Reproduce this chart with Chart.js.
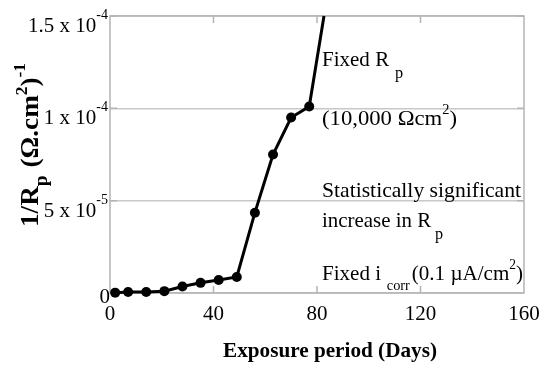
<!DOCTYPE html>
<html>
<head>
<meta charset="utf-8">
<script src="https://cdn.jsdelivr.net/npm/chart.js@4/dist/chart.umd.min.js"></script>
<style>
  html, body { margin: 0; padding: 0; background: #fff; }
  #wrap { width: 549px; height: 367px; position: relative; }
</style>
</head>
<body>
<div id="wrap"><canvas id="c"></canvas></div>
<script>
// Exposure period (days) and measured 1/Rp (ohm.cm^2)^-1
const exposureDays = [2, 7, 14, 21, 28, 35, 42, 49, 56, 63, 70, 77, 82.7];
const inverseRp = [0.02e-5, 0.05e-5, 0.05e-5, 0.1e-5, 0.35e-5, 0.55e-5, 0.7e-5, 0.87e-5, 4.35e-5, 7.5e-5, 9.5e-5, 10.1e-5, 15e-5];
// the last entry only carries the line up to the top of the frame
const markerRadius = [5, 5, 5, 5, 5, 5, 5, 5, 5, 5, 5, 5, 0];

const xTickValues = [0, 40, 80, 120, 160];
const yTickValues = [0, 5e-5, 1e-4, 1.5e-4];
const yTickBase = ['0', '5 x 10', '1 x 10', '1.5 x 10'];
const yTickExp = ['', '-5', '-4', '-4'];

const SERIF = '"Liberation Serif", "Times New Roman", serif';

// Draws a run of text pieces (normal / sub / superscript) on one baseline.
// Optionally squeezes the whole run horizontally to a given width.
function drawRuns(ctx, runs, x, y, align, fitWidth) {
  let total = 0;
  const widths = runs.map(r => {
    ctx.font = (r.bold ? 'bold ' : '') + r.size + 'px ' + SERIF;
    const w = ctx.measureText(r.t).width;
    total += w + (r.gap || 0);
    return w;
  });
  const sx = fitWidth ? fitWidth / total : 1;
  const span = total * sx;
  const start = align === 'right' ? -span : align === 'center' ? -span / 2 : 0;
  ctx.save();
  ctx.translate(x + start, y);
  ctx.scale(sx, 1);
  ctx.textAlign = 'left';
  ctx.textBaseline = 'alphabetic';
  ctx.fillStyle = '#000';
  let cx = 0;
  runs.forEach((r, i) => {
    cx += r.gap || 0;
    ctx.font = (r.bold ? 'bold ' : '') + r.size + 'px ' + SERIF;
    ctx.fillText(r.t, cx, r.dy || 0);
    cx += widths[i];
  });
  ctx.restore();
}

const framePlugin = {
  id: 'frame',
  beforeDatasetsDraw(chart) {
    const { ctx, chartArea: a, scales: { x, y } } = chart;
    ctx.save();
    ctx.strokeStyle = '#b4b4b4';
    ctx.lineWidth = 1.5;
    ctx.strokeRect(a.left, a.top, a.right - a.left, a.bottom - a.top);
    const tl = 7;
    ctx.beginPath();
    xTickValues.slice(1, -1).forEach(v => {
      const px = x.getPixelForValue(v);
      ctx.moveTo(px, a.bottom); ctx.lineTo(px, a.bottom - tl);
      ctx.moveTo(px, a.top); ctx.lineTo(px, a.top + tl);
    });
    yTickValues.slice(1).forEach(v => {
      const py = y.getPixelForValue(v);
      ctx.moveTo(a.left, py); ctx.lineTo(a.left + tl, py);
      ctx.moveTo(a.right, py); ctx.lineTo(a.right - tl, py);
    });
    ctx.stroke();
    ctx.restore();
  },
  afterDraw(chart) {
    const { ctx, chartArea: a, scales: { y } } = chart;

    // y tick labels with exponents
    yTickValues.forEach((v, i) => {
      const py = y.getPixelForValue(v);
      if (yTickExp[i]) {
        drawRuns(ctx, [
          { t: yTickBase[i], size: 21 },
          { t: yTickExp[i], size: 14, dy: -13 }
        ], a.left - 2, py + 16, 'right');
      } else {
        drawRuns(ctx, [{ t: yTickBase[i], size: 21 }], a.left, py + 10, 'right');
      }
    });

    // y axis title, rotated
    ctx.save();
    ctx.translate(38, 145);
    ctx.rotate(-Math.PI / 2);
    drawRuns(ctx, [
      { t: '1/R', size: 25, bold: true },
      { t: 'p', size: 18, bold: true, dy: 9 },
      { t: ' (\u03A9.cm', size: 25, bold: true, gap: 1 },
      { t: '2', size: 16, bold: true, dy: -11 },
      { t: ')', size: 25, bold: true },
      { t: '-1', size: 16, bold: true, dy: -13 }
    ], 0, 0, 'center', 164);
    ctx.restore();

    // x axis title
    drawRuns(ctx, [{ t: 'Exposure period (Days)', size: 21, bold: true }], 330, 357, 'center', 214);

    // annotations on the right of the curve
    const tx = 322;
    drawRuns(ctx, [
      { t: 'Fixed R', size: 22 },
      { t: 'p', size: 17, dy: 12, gap: 6 }
    ], tx, 66, 'left', 81);
    drawRuns(ctx, [
      { t: '(10,000 \u03A9cm', size: 22 },
      { t: '2', size: 14, dy: -11 },
      { t: ')', size: 22 }
    ], tx, 125, 'left', 135);
    drawRuns(ctx, [{ t: 'Statistically significant', size: 22 }], tx, 197, 'left', 199);
    drawRuns(ctx, [
      { t: 'increase in R', size: 22 },
      { t: 'p', size: 17, dy: 12, gap: 4 }
    ], tx, 227, 'left', 121);
    drawRuns(ctx, [
      { t: 'Fixed i', size: 22 },
      { t: 'corr', size: 15, dy: 10, gap: 6 },
      { t: '(0.1 \u00B5A/cm', size: 22, gap: 2 },
      { t: '2', size: 14, dy: -11 },
      { t: ')', size: 22 }
    ], tx, 280, 'left', 201);
  }
};

new Chart(document.getElementById('c'), {
  type: 'line',
  data: {
    datasets: [{
      data: exposureDays.map((d, i) => ({ x: d, y: inverseRp[i] })),
      borderColor: '#000',
      backgroundColor: '#000',
      borderWidth: 3,
      pointRadius: markerRadius,
      pointBackgroundColor: '#000',
      pointBorderWidth: 0,
      tension: 0,
      clip: false
    }]
  },
  options: {
    responsive: true,
    maintainAspectRatio: false,
    animation: false,
    events: [],
    layout: { padding: { left: 0, top: 16, right: 25, bottom: 0 } },
    plugins: { legend: { display: false }, tooltip: { enabled: false }, title: { display: false } },
    scales: {
      x: {
        type: 'linear',
        min: 0,
        max: 160,
        afterBuildTicks: s => { s.ticks = xTickValues.map(v => ({ value: v })); },
        afterFit: s => { s.height = 74; },
        ticks: {
          font: { family: SERIF, size: 21 },
          color: '#000',
          padding: 9,
          maxRotation: 0,
          autoSkip: false
        },
        grid: { display: false, drawTicks: false },
        border: { display: false }
      },
      y: {
        type: 'linear',
        min: 0,
        max: 1.5e-4,
        afterBuildTicks: s => { s.ticks = yTickValues.map(v => ({ value: v })); },
        afterFit: s => { s.width = 110; },
        ticks: { display: false },
        grid: { color: '#c8c8c8', lineWidth: 1.5, drawTicks: false },
        border: { display: false }
      }
    }
  },
  plugins: [framePlugin]
});
</script>
</body>
</html>
